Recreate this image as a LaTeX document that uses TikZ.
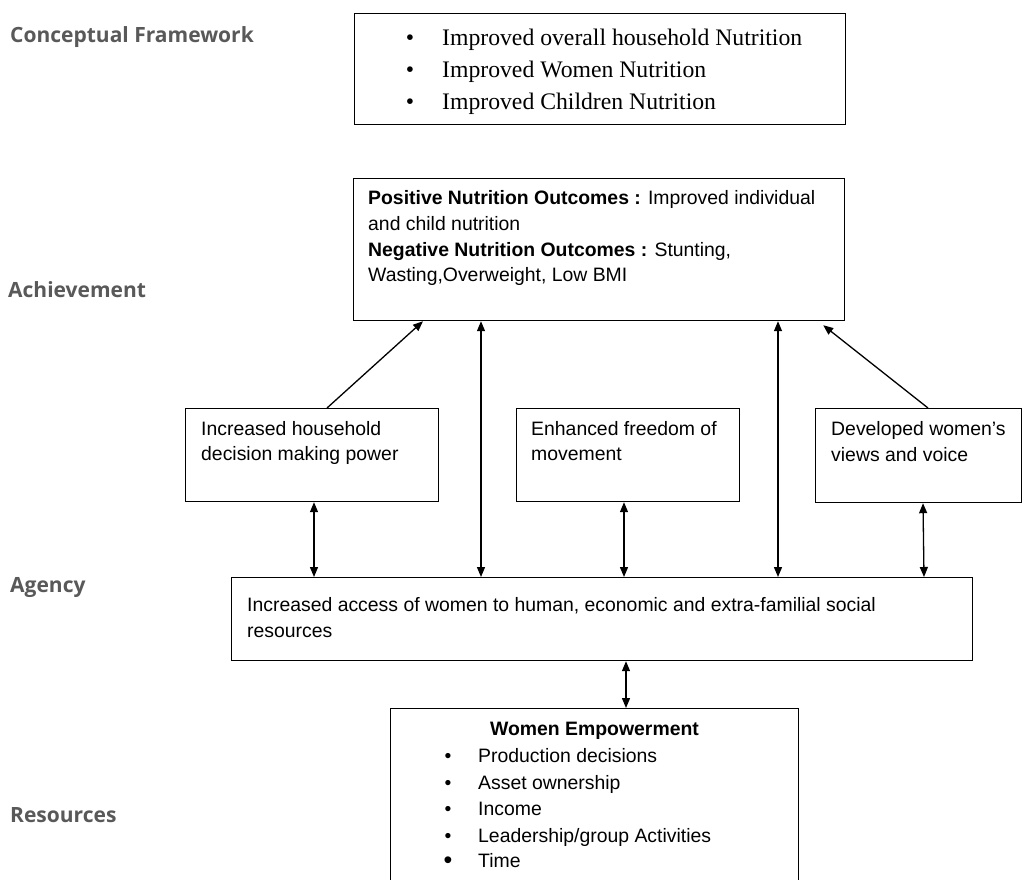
\documentclass[tikz,border=0pt]{standalone}
\usepackage{fontspec}
\setmainfont{Liberation Sans}
\newfontfamily\serifff{Liberation Serif}
\newfontfamily\labelff{Open Sans}
\usetikzlibrary{arrows.meta}
\definecolor{lblgray}{HTML}{595959}
\begin{document}
\begin{tikzpicture}[x=1pt,y=-1pt,
  box/.style={draw=black, line width=1.2pt, rectangle, inner sep=0pt, anchor=north west},
  txt/.style={inner sep=0pt, anchor=base west, font=\fontsize{19.4pt}{23pt}\selectfont},
  btxt/.style={inner sep=0pt, anchor=base, font=\fontsize{19.4pt}{23pt}\selectfont},
  stxt/.style={inner sep=0pt, anchor=base west, font=\serifff\fontsize{23.7pt}{28pt}\selectfont},
  sbul/.style={inner sep=0pt, anchor=base, font=\serifff\fontsize{23.7pt}{28pt}\selectfont},
  lbl/.style={inner sep=0pt, anchor=base west, text=lblgray, font=\labelff\bfseries\fontsize{21pt}{25pt}\selectfont},
  sgl/.style={line width=1.3pt, -{Triangle[length=10pt,width=8pt]}},
  dbl/.style={line width=1.3pt, {Triangle[length=10pt,width=8pt]}-{Triangle[length=10pt,width=8pt]}}
]
\useasboundingbox (0,0) rectangle (1022,879);
\clip (0,0) rectangle (1022,879);
\fill[white] (0,0) rectangle (1022,879);

% labels
\node[lbl] (lcf) at (10,42) {Conceptual Framework};
\node[lbl] (lach) at (8,297) {Achievement};
\node[lbl] (lag) at (10,592) {Agency};
\node[lbl] (lres) at (10,822) {Resources};

% boxes
\node[box, minimum width=491pt, minimum height=111pt] (goal) at (354,13) {};
\node[box, minimum width=491pt, minimum height=142pt] (outcome) at (353,178) {};
\node[box, minimum width=253pt, minimum height=93pt] (hdm) at (185,408) {};
\node[box, minimum width=223pt, minimum height=93pt] (fom) at (516,408) {};
\node[box, minimum width=206pt, minimum height=94pt] (voice) at (815,408) {};
\node[box, minimum width=741pt, minimum height=83pt] (agency) at (231,577) {};
\node[box, minimum width=408pt, minimum height=200pt] (wemp) at (390,708) {};

% goal text
\node[sbul] (g1b) at (410,45) {•};
\node[stxt] (g1) at (442,45) {Improved overall household Nutrition};
\node[sbul] (g2b) at (410,77) {•};
\node[stxt] (g2) at (442,77) {Improved Women Nutrition};
\node[sbul] (g3b) at (410,109) {•};
\node[stxt] (g3) at (442,109) {Improved Children Nutrition};

% outcome text
\node[txt] (o1) at (368,204) {\textbf{Positive Nutrition Outcomes :} Improved individual};
\node[txt] (o2) at (368,230) {and child nutrition};
\node[txt] (o3) at (368,256) {\textbf{Negative Nutrition Outcomes :} Stunting,};
\node[txt] (o4) at (368,281) {Wasting,Overweight, Low BMI};

% middle row
\node[txt] (h1) at (201,435) {Increased household};
\node[txt] (h2) at (201,460) {decision making power};
\node[txt] (f1) at (531,435) {Enhanced freedom of};
\node[txt] (f2) at (531,460) {movement};
\node[txt] (v1) at (831,435) {Developed women’s};
\node[txt] (v2) at (831,461) {views and voice};

% agency
\node[txt] (a1) at (247,611) {Increased access of women to human, economic and extra-familial social};
\node[txt] (a2) at (247,637) {resources};

% women empowerment
\node[btxt] (wt) at (594.5,735) {\textbf{Women Empowerment}};
\node[btxt] (w1b) at (448,762) {•};
\node[txt] (w1) at (478,762) {Production decisions};
\node[btxt] (w2b) at (448,789) {•};
\node[txt] (w2) at (478,789) {Asset ownership};
\node[btxt] (w3b) at (448,815) {•};
\node[txt] (w3) at (478,815) {Income};
\node[btxt] (w4b) at (448,842) {•};
\node[txt] (w4) at (478,842) {Leadership/group Activities};
\node[inner sep=0pt, anchor=base, font=\fontsize{25pt}{28pt}\selectfont] (w5b) at (448,868) {•};
\node[txt] (w5) at (478,867) {Time};

% connectors
\draw[sgl] ([xshift=142pt]hdm.north west) -- ([xshift=70pt]outcome.south west);
\draw[dbl] ([xshift=250pt]agency.north west) -- ([xshift=128pt]outcome.south west);
\draw[dbl] ([xshift=547pt]agency.north west) -- ([xshift=425pt]outcome.south west);
\draw[sgl] ([xshift=113pt]voice.north west) -- ([xshift=-22pt,yshift=-4pt]outcome.south east);
\draw[dbl] ([xshift=129pt]hdm.south west) -- ([xshift=83pt]agency.north west);
\draw[dbl] ([xshift=108pt]fom.south west) -- ([xshift=393pt]agency.north west);
\draw[dbl] ([xshift=108pt]voice.south west) -- ([xshift=693pt]agency.north west);
\draw[dbl] ([xshift=395pt]agency.south west) -- ([xshift=236pt]wemp.north west);
\end{tikzpicture}
\end{document}
